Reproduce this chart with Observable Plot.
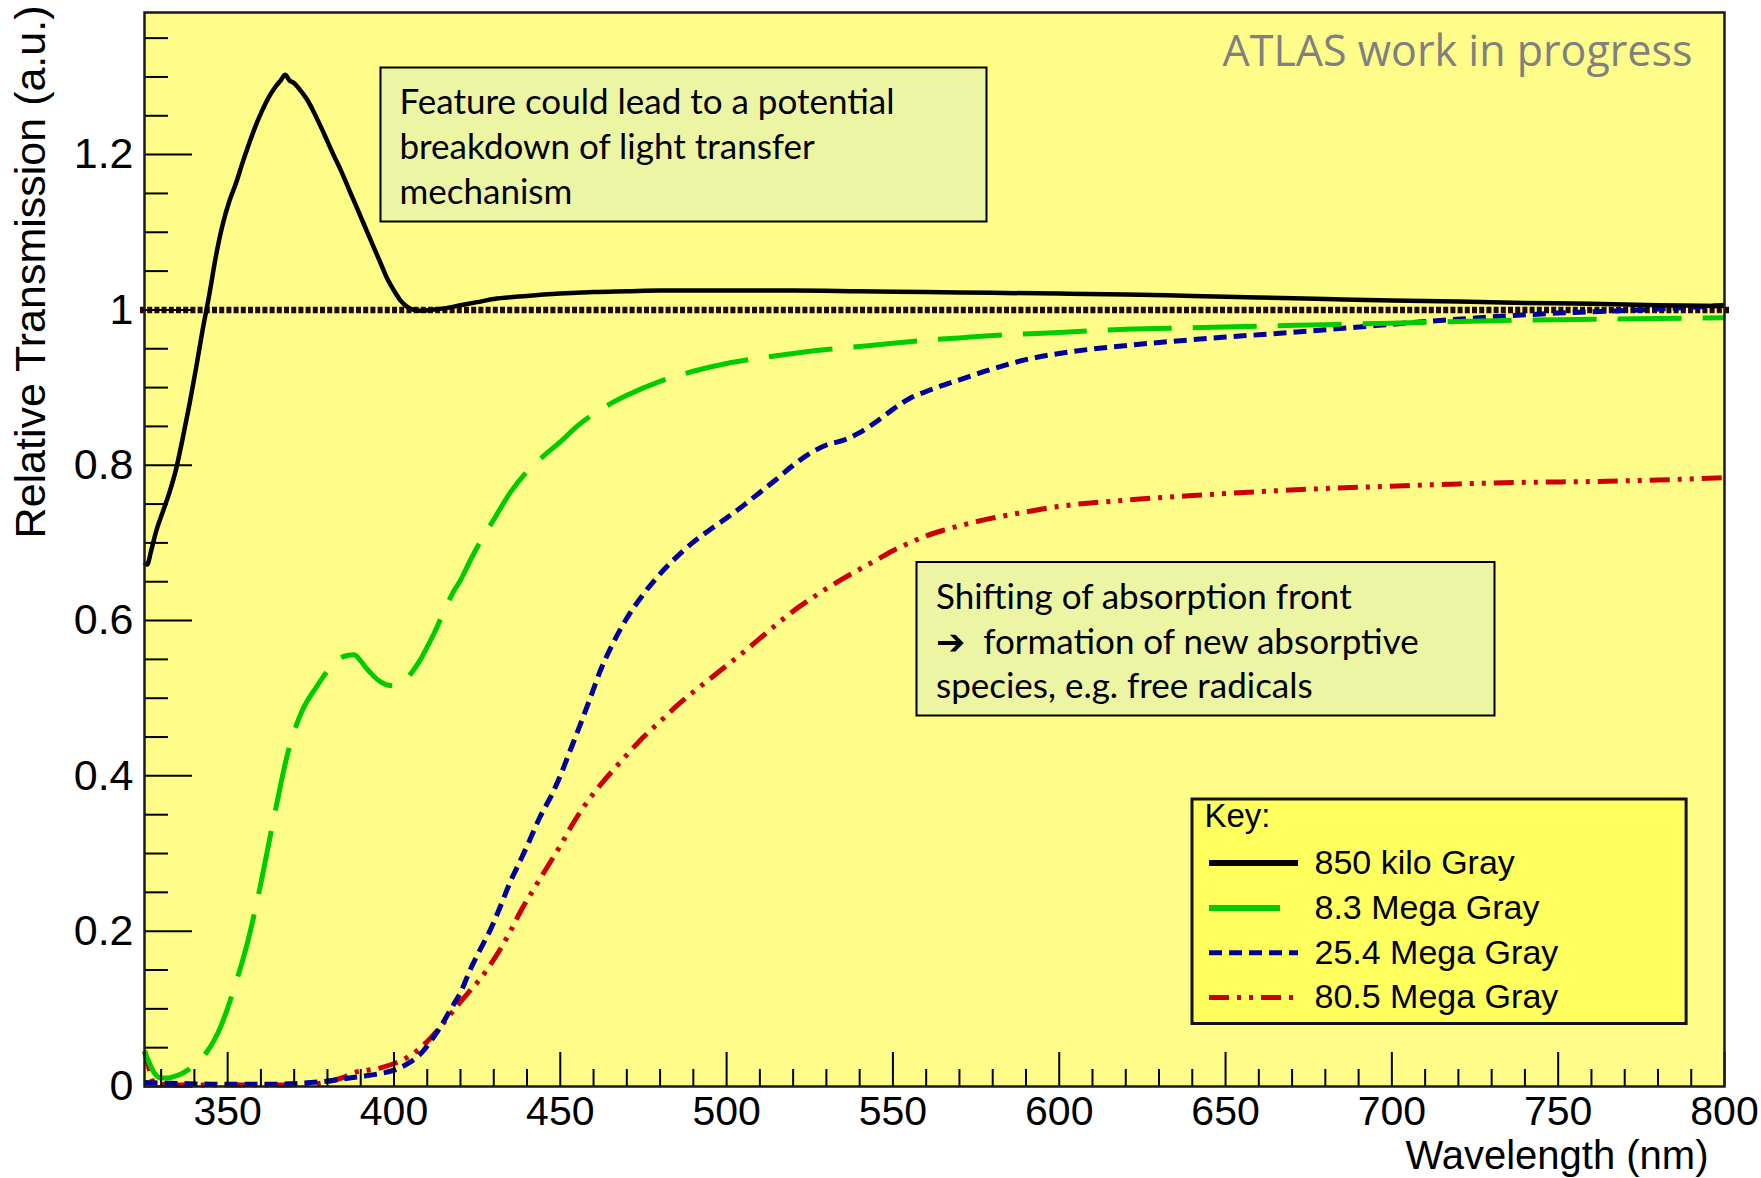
<!DOCTYPE html>
<html>
<head>
<meta charset="utf-8">
<script src="https://cdn.jsdelivr.net/npm/d3@7"></script>
<script src="https://cdn.jsdelivr.net/npm/@observablehq/plot@0.6"></script>
<style>
  html, body { margin: 0; padding: 0; background: #ffffff; }
  #chart { width: 1761px; height: 1178px; overflow: hidden; }
</style>
</head>
<body>
<div id="chart"></div>
<script>
// ---------------- data ----------------
const seriesNames = ["850 kilo Gray", "8.3 Mega Gray", "25.4 Mega Gray", "80.5 Mega Gray"];

// 850 kilo Gray (solid black)
const wl850k = [325, 325.8, 327, 328.5, 330.5, 332.5, 334.5, 336.5, 338.5, 340.5, 342.5, 344.5, 346.5, 348.5, 350.5, 352.5, 354.5, 356.5, 358.5, 360.5, 362.5, 364.5, 366, 367.3, 368.5, 370, 372, 374, 376, 378, 380, 382, 384, 386, 388, 390, 392, 394, 396, 398, 400, 402, 404, 406, 408, 411, 415, 420, 425, 430, 440, 450, 460, 470, 480, 500, 520, 540, 560, 580, 600, 620, 640, 660, 680, 700, 720, 740, 760, 780, 800];
const tr850k = [0.675, 0.672, 0.69, 0.715, 0.74, 0.765, 0.795, 0.835, 0.878, 0.925, 0.975, 1.02, 1.07, 1.11, 1.14, 1.163, 1.19, 1.215, 1.238, 1.258, 1.275, 1.288, 1.296, 1.303, 1.296, 1.292, 1.282, 1.27, 1.254, 1.236, 1.217, 1.198, 1.18, 1.16, 1.14, 1.12, 1.1, 1.08, 1.06, 1.04, 1.025, 1.012, 1.004, 1.0, 0.999, 1.0, 1.002, 1.006, 1.01, 1.014, 1.018, 1.021, 1.023, 1.024, 1.025, 1.025, 1.025, 1.024, 1.023, 1.022, 1.021, 1.02, 1.018, 1.016, 1.014, 1.012, 1.011, 1.009, 1.008, 1.006, 1.005];

// 8.3 Mega Gray (green long dash)
const wl8M = [325, 326.5, 328, 330, 332, 334, 336, 338, 340, 342, 344, 346, 348, 350, 352, 354, 356, 358, 360, 362, 364, 366, 368, 370, 372, 374, 376, 378, 380, 382, 384, 386, 388, 390, 392, 394, 396, 398, 400, 402, 404, 406, 408, 410, 412, 414, 416, 418, 420, 423, 426, 430, 435, 440, 445, 450, 455, 460, 465, 470, 480, 490, 500, 510, 520, 530, 540, 550, 560, 570, 580, 600, 620, 640, 660, 680, 700, 720, 740, 760, 780, 800];
const tr8M = [0.046, 0.03, 0.017, 0.011, 0.011, 0.013, 0.016, 0.021, 0.027, 0.035, 0.046, 0.06, 0.078, 0.101, 0.127, 0.155, 0.186, 0.222, 0.262, 0.305, 0.348, 0.39, 0.428, 0.457, 0.48, 0.497, 0.51, 0.523, 0.535, 0.545, 0.552, 0.555, 0.556, 0.548, 0.537, 0.528, 0.521, 0.517, 0.516, 0.519, 0.526, 0.537, 0.55, 0.566, 0.583, 0.602, 0.621, 0.638, 0.652, 0.678, 0.702, 0.73, 0.765, 0.792, 0.812, 0.83, 0.85, 0.866, 0.879, 0.89, 0.908, 0.921, 0.931, 0.938, 0.944, 0.949, 0.953, 0.957, 0.961, 0.964, 0.967, 0.971, 0.975, 0.977, 0.979, 0.981, 0.983, 0.985, 0.987, 0.988, 0.989, 0.99];

// 25.4 Mega Gray (blue short dash)
const wl25M = [325, 335, 345, 355, 365, 375, 380, 385, 390, 395, 400, 404, 408, 411, 414, 417, 420, 423, 426, 429, 432, 435, 438, 441, 444, 447, 450, 453, 456, 459, 462, 466, 470, 475, 480, 485, 490, 495, 500, 505, 510, 515, 520, 525, 530, 535, 540, 545, 550, 555, 560, 570, 580, 590, 600, 615, 630, 650, 670, 690, 710, 730, 750, 775, 800];
const tr25M = [0.005, 0.004, 0.003, 0.003, 0.003, 0.005, 0.007, 0.01, 0.013, 0.016, 0.021, 0.029, 0.042, 0.058, 0.077, 0.099, 0.121, 0.151, 0.177, 0.202, 0.232, 0.264, 0.291, 0.319, 0.348, 0.372, 0.4, 0.433, 0.466, 0.5, 0.535, 0.572, 0.603, 0.634, 0.66, 0.682, 0.701, 0.717, 0.732, 0.748, 0.765, 0.782, 0.8, 0.815, 0.826, 0.832, 0.842, 0.856, 0.872, 0.886, 0.895, 0.91, 0.924, 0.936, 0.944, 0.952, 0.958, 0.965, 0.971, 0.978, 0.985, 0.991, 0.996, 1.0, 1.006];

// 80.5 Mega Gray (red dash-dot-dot)
const wl80M = [325, 326, 327, 328, 335, 345, 355, 365, 375, 380, 385, 388, 392, 396, 399, 403, 406, 410, 414, 417, 420, 423, 426, 429, 432, 435, 438, 442, 446, 450, 454, 458, 462, 466, 470, 475, 480, 485, 490, 495, 500, 505, 510, 515, 520, 525, 530, 535, 540, 545, 550, 555, 560, 565, 570, 580, 590, 600, 620, 640, 660, 680, 700, 720, 740, 760, 780, 800];
const tr80M = [0.045, 0.03, 0.012, 0.004, 0.002, 0.002, 0.002, 0.002, 0.003, 0.006, 0.012, 0.018, 0.021, 0.024, 0.028, 0.035, 0.043, 0.058, 0.077, 0.093, 0.109, 0.124, 0.139, 0.157, 0.177, 0.2, 0.225, 0.254, 0.282, 0.31, 0.34, 0.366, 0.388, 0.408, 0.427, 0.45, 0.47, 0.49, 0.508, 0.525, 0.542, 0.559, 0.577, 0.595, 0.612, 0.627, 0.641, 0.654, 0.666, 0.678, 0.69, 0.7, 0.709, 0.716, 0.722, 0.732, 0.74, 0.747, 0.755, 0.761, 0.766, 0.77, 0.773, 0.776, 0.778, 0.779, 0.781, 0.784];

// axis ticks
const xTickValues = [350, 400, 450, 500, 550, 600, 650, 700, 750, 800];
const xTickLabels = ["350", "400", "450", "500", "550", "600", "650", "700", "750", "800"];
const yTickValues = [0, 0.2, 0.4, 0.6, 0.8, 1, 1.2];
const yTickLabels = ["0", "0.2", "0.4", "0.6", "0.8", "1", "1.2"];
const referenceLevel = [1];

// annotations
const note1 = "Feature could lead to a potential\nbreakdown of light transfer\nmechanism";
const note2 = "Shifting of absorption front\n\u2794\u00a0 formation of new absorptive\nspecies, e.g. free radicals";
const watermark = "ATLAS work in progress";
const xTitle = "Wavelength (nm)";
const yTitle = "Relative Transmission (a.u.)";
const legendTitle = "Key:";

// ---------------- layout & style ----------------
const W = 1761, H = 1178;
const mL = 144, mR = 37, mT = 12, mB = 92;
const frameW = W - mL - mR;   // 1580
const frameH = H - mT - mB;   // 1074
const xDomain = [325, 800];
const yDomain = [0, 1.383];

const styles = [
  {stroke: "#000000", width: 4.5, dash: null,           legendDash: null,           legendWidth: 6, legendRight: 1724 - 1298},
  {stroke: "#00cc00", width: 5,   dash: "64,21",        legendDash: null,           legendWidth: 6, legendRight: 1724 - 1280},
  {stroke: "#000099", width: 5,   dash: "13,7",         legendDash: "13,7",         legendWidth: 5, legendRight: 1724 - 1298},
  {stroke: "#cc0000", width: 5,   dash: "20,8,4,8,4,8", legendDash: "20,8,4,8,4,8", legendWidth: 5, legendRight: 1724 - 1298}
];

const seriesData = [[wl850k, tr850k], [wl8M, tr8M], [wl25M, tr25M], [wl80M, tr80M]]
  .map(([xs, ys]) => xs.map((x, i) => ({x, y: ys[i]})));

const xMinor = d3.range(330, 800, 10).filter(v => v % 50 !== 0);
const yMinor = d3.range(1, 28).map(i => Math.round(i * 5) / 100).filter(v => Math.round(v * 100) % 20 !== 0);

const sansAxis = "Liberation Sans, Arial, Helvetica, sans-serif";
const sansNote = "Lato, 'Open Sans', 'DejaVu Sans', sans-serif";

// helper: rectangle inside the frame given in page pixels
function box(x1, y1, x2, y2, fill, stroke, sw) {
  return Plot.frame({
    insetLeft: x1 - mL, insetTop: y1 - mT, insetRight: (W - mR) - x2, insetBottom: (H - mB) - y2,
    fill, stroke, strokeWidth: sw
  });
}
function label(text, px, py, opts = {}) {
  return Plot.text([text], {
    text: d => d, frameAnchor: "top-left", dx: px - mL, dy: py - mT,
    textAnchor: "start", lineAnchor: "middle", fill: "#000", ...opts
  });
}

const marks = [];
marks.push(Plot.frame({fill: "#fffd8a"}));

// reference line at 1
marks.push(Plot.ruleY(referenceLevel, {stroke: "#220800", strokeWidth: 6.5, strokeDasharray: "5,2.2", insetLeft: -4, insetRight: -6}));

// curves (draw red, blue, green, black)
[3, 2, 1, 0].forEach(i => {
  const s = styles[i];
  marks.push(Plot.line(seriesData[i], {
    x: "x", y: "y", stroke: s.stroke, strokeWidth: s.width,
    strokeDasharray: s.dash || undefined, curve: "monotone-x", strokeLinecap: "butt"
  }));
});

// ticks (ROOT style, inside the frame)
marks.push(Plot.tickY(yMinor, {y: d => d, insetRight: frameW - 24, stroke: "#000", strokeWidth: 2}));
marks.push(Plot.tickY(yTickValues, {y: d => d, insetRight: frameW - 48, stroke: "#000", strokeWidth: 2}));
marks.push(Plot.tickX(xMinor, {x: d => d, insetTop: frameH - 17, stroke: "#000", strokeWidth: 2}));
marks.push(Plot.tickX(xTickValues, {x: d => d, insetTop: frameH - 34, stroke: "#000", strokeWidth: 2}));

// tick labels
marks.push(Plot.axisX({ticks: xTickValues, tickFormat: d => xTickLabels[xTickValues.indexOf(d)], tickSize: 0, tickPadding: 9, fontSize: 41, label: null, fill: "#000"}));
marks.push(Plot.axisY({ticks: yTickValues, tickFormat: d => yTickLabels[yTickValues.indexOf(d)], tickSize: 0, tickPadding: 11, fontSize: 43, label: null, fill: "#000"}));

// axis titles
marks.push(Plot.text([yTitle], {text: d => d, frameAnchor: "top-left", rotate: -90, textAnchor: "end", lineAnchor: "middle", dx: 31 - mL, dy: 5 - mT, fontSize: 43, fill: "#000"}));
marks.push(Plot.text([xTitle], {text: d => d, frameAnchor: "bottom-right", textAnchor: "end", lineAnchor: "middle", dx: 1708 - (W - mR), dy: 1156 - (H - mB), fontSize: 40, fill: "#000"}));

// watermark
marks.push(Plot.text([watermark], {text: d => d, frameAnchor: "top-right", textAnchor: "end", lineAnchor: "middle", dx: 1692 - (W - mR), dy: 52 - mT, fontSize: 43, fill: "#808080", fontFamily: "'Open Sans', Lato, sans-serif"}));

// annotation boxes
marks.push(box(380, 67, 986, 221, "#ecf5a4", "#000", 2));
marks.push(label(note1, 399, 144, {fontSize: 35, lineHeight: 45 / 35, fontFamily: sansNote}));
marks.push(box(916, 561.5, 1494, 715, "#ecf5a4", "#000", 2));
marks.push(label(note2, 935.5, 639, {fontSize: 35, lineHeight: 44.5 / 35, fontFamily: sansNote}));

// legend
marks.push(box(1191.5, 798.5, 1685.6, 1023, "#ffff5e", "#111", 3));
marks.push(label(legendTitle, 1204, 816, {fontSize: 33, fontFamily: sansAxis}));
const rowY = [862.5, 907.4, 952.3, 997];
styles.forEach((s, i) => {
  marks.push(Plot.ruleY([yDomain[1]], {
    dy: rowY[i] - mT, insetLeft: 1209 - mL, insetRight: s.legendRight,
    stroke: s.stroke, strokeWidth: s.legendWidth, strokeDasharray: s.legendDash || undefined
  }));
  marks.push(label(seriesNames[i], 1314, rowY[i], {fontSize: 34, fontFamily: sansAxis}));
});

// frame border
marks.push(Plot.frame({stroke: "#1a1a1a", strokeWidth: 2.5}));

const chart = Plot.plot({
  width: W, height: H,
  marginLeft: mL, marginRight: mR, marginTop: mT, marginBottom: mB,
  x: {domain: xDomain},
  y: {domain: yDomain},
  style: {background: "#ffffff", fontFamily: sansAxis, color: "#000", overflow: "visible"},
  marks
});
document.getElementById("chart").appendChild(chart);
</script>
</body>
</html>
